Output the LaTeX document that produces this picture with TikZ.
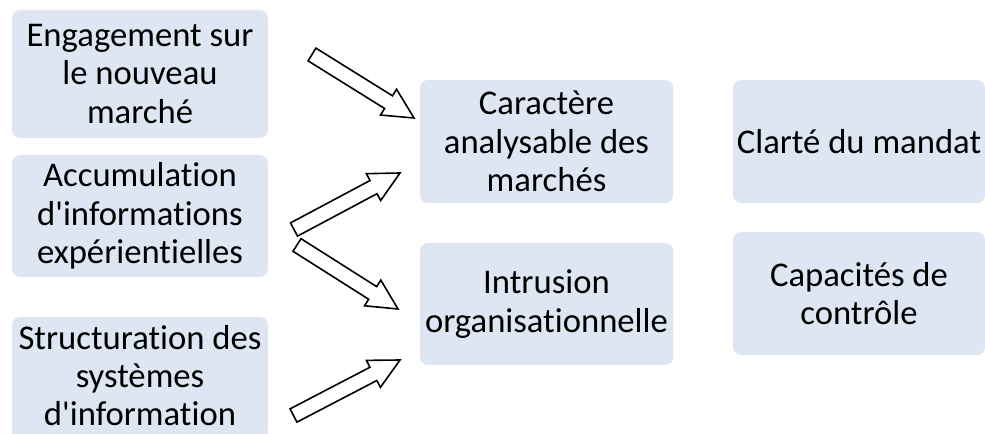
\documentclass[tikz,border=0pt]{standalone}
\usepackage{fontspec}
\setmainfont{Carlito}[Ligatures={NoCommon,NoContextual}]
\usetikzlibrary{calc}
\definecolor{boxfill}{RGB}{221,230,242}
\tikzset{
  box/.style={fill=boxfill, draw=none, rounded corners=6pt, align=center,
    inner sep=0pt, font=\fontsize{26}{28.8}\selectfont, text=black},
  blockarr/.style={draw=black, fill=white, line width=1.2pt, line join=miter}
}
\newcommand{\blockarrow}[2]{%
  \draw[blockarr] ($(#1)!5.6pt!90:(#2)$) -- ($($(#2)!22.5pt!(#1)$)!5.6pt!90:(#2)$)
    -- ($($(#2)!22.5pt!(#1)$)!11.4pt!90:(#2)$) -- (#2)
    -- ($($(#2)!22.5pt!(#1)$)!11.4pt!-90:(#2)$) -- ($($(#2)!22.5pt!(#1)$)!5.6pt!-90:(#2)$)
    -- ($(#1)!5.6pt!-90:(#2)$) -- cycle;}
\begin{document}
\begin{tikzpicture}[x=0.75pt,y=-0.75pt]
\path[use as bounding box] (0,0) rectangle (985,434);
\clip (0,0) rectangle (985,434);
% left column
\node[box, minimum width=192pt, minimum height=96pt] (b1) at (140,74) {Engagement sur\\le nouveau\\marché};
\node[box, minimum width=192pt, minimum height=91.5pt] (b2) at (140,216) {Accumulation\\d\textquotesingle informations\\expérientielles};
\fill[boxfill] (12,420) rectangle (268,434);
\node[box, minimum width=192pt, minimum height=87.75pt] (b3) at (140,375.5) {Structuration des\\systèmes\\d\textquotesingle information};
% middle column
\node[box, minimum width=190pt, minimum height=92.25pt] (b4) at (546.5,141.5) {Caractère\\analysable des\\marchés};
\node[box, minimum width=190pt, minimum height=91.5pt] (b5) at (546.5,304) {Intrusion\\organisationnelle};
% right column
\node[box, minimum width=189pt, minimum height=92.25pt] (b6) at (859,141.5) {Clarté du mandat};
\node[box, minimum width=189pt, minimum height=92.25pt] (b7) at (859,293.5) {Capacités de\\contrôle};
% arrows
\coordinate (t1) at (312,54.5);  \coordinate (h1) at (414,118);
\coordinate (t2) at (294,229.5); \coordinate (h2) at (400,173);
\coordinate (t3) at (297,245);   \coordinate (h3) at (398,309);
\coordinate (t4) at (293.5,415.5); \coordinate (h4) at (400,360);
\blockarrow{t1}{h1}
\blockarrow{t2}{h2}
\blockarrow{t3}{h3}
\blockarrow{t4}{h4}
\end{tikzpicture}
\end{document}
